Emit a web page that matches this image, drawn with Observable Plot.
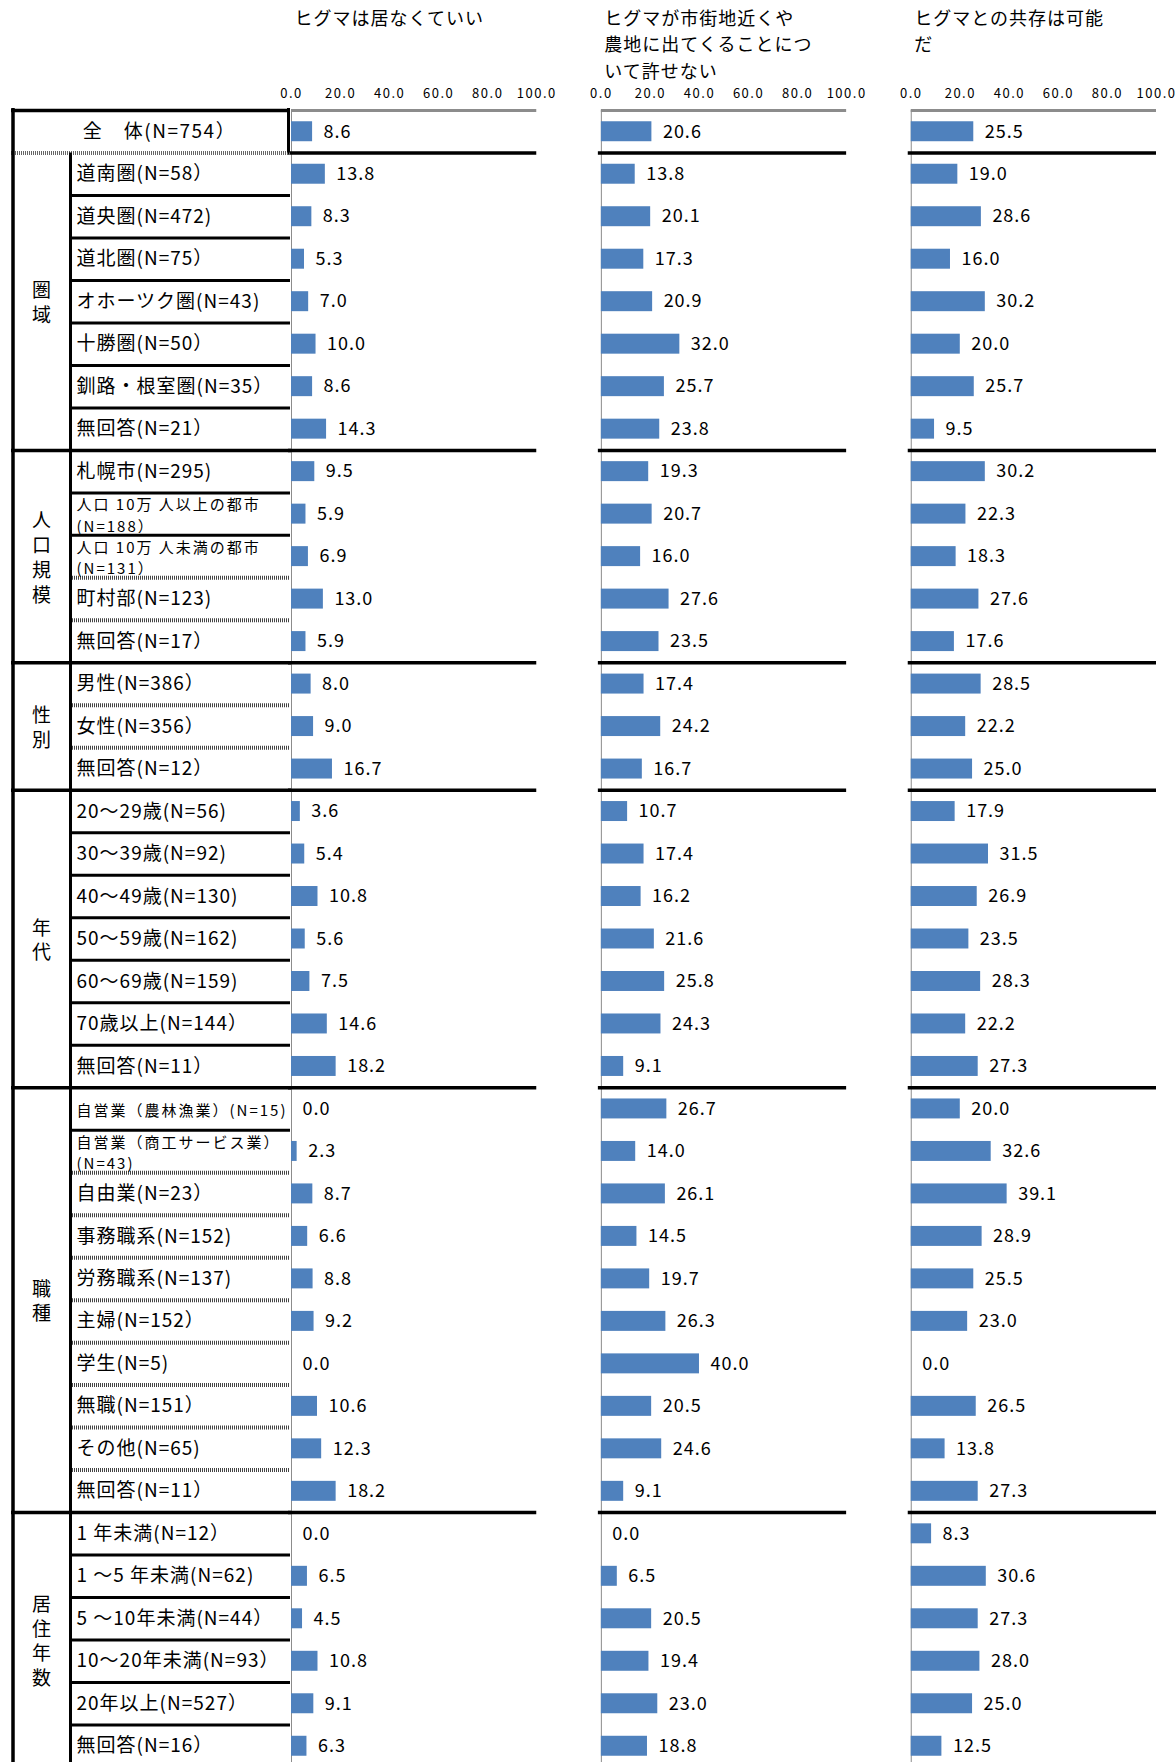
<!DOCTYPE html>
<html>
<head>
<meta charset="utf-8">
<script src="https://cdn.jsdelivr.net/npm/d3@7"></script>
<script src="https://cdn.jsdelivr.net/npm/@observablehq/plot@0.6"></script>
<style>
html, body { margin: 0; padding: 0; background: #fff; }
#chart svg { display: block; letter-spacing: 1px; }
</style>
</head>
<body>
<div id="chart"></div>
<script>
// ---------------- DATA ----------------
const questionKeys = ["q1", "q2", "q3"];
const questionTitles = [
  "ヒグマは居なくていい",
  "ヒグマが市街地近くや\n農地に出てくることにつ\nいて許せない",
  "ヒグマとの共存は可能\nだ"
];
const groupNames = ["全体", "圏域", "人口規模", "性別", "年代", "職種", "居住年数"];
const groupSizes = [1, 7, 5, 3, 7, 10, 6];
const rowLabels = [
  "全　体(N=754）",
  "道南圏(N=58）", "道央圏(N=472)", "道北圏(N=75）", "オホーツク圏(N=43)", "十勝圏(N=50）", "釧路・根室圏(N=35）", "無回答(N=21）",
  "札幌市(N=295)", "人口 10万 人以上の都市\n(N=188）", "人口 10万 人未満の都市\n(N=131）", "町村部(N=123)", "無回答(N=17）",
  "男性(N=386）", "女性(N=356）", "無回答(N=12）",
  "20～29歳(N=56)", "30～39歳(N=92)", "40～49歳(N=130)", "50～59歳(N=162)", "60～69歳(N=159)", "70歳以上(N=144）", "無回答(N=11）",
  "自営業（農林漁業）(N=15)", "自営業（商工サービス業）\n(N=43)", "自由業(N=23）", "事務職系(N=152)", "労務職系(N=137)", "主婦(N=152）", "学生(N=5)", "無職(N=151）", "その他(N=65)", "無回答(N=11）",
  "1 年未満(N=12）", "1 ～5 年未満(N=62)", "5 ～10年未満(N=44）", "10～20年未満(N=93）", "20年以上(N=527）", "無回答(N=16）"
];
const q1Values = [8.6, 13.8, 8.3, 5.3, 7.0, 10.0, 8.6, 14.3, 9.5, 5.9, 6.9, 13.0, 5.9, 8.0, 9.0, 16.7,
  3.6, 5.4, 10.8, 5.6, 7.5, 14.6, 18.2, 0.0, 2.3, 8.7, 6.6, 8.8, 9.2, 0.0, 10.6, 12.3, 18.2,
  0.0, 6.5, 4.5, 10.8, 9.1, 6.3];
const q2Values = [20.6, 13.8, 20.1, 17.3, 20.9, 32.0, 25.7, 23.8, 19.3, 20.7, 16.0, 27.6, 23.5, 17.4, 24.2, 16.7,
  10.7, 17.4, 16.2, 21.6, 25.8, 24.3, 9.1, 26.7, 14.0, 26.1, 14.5, 19.7, 26.3, 40.0, 20.5, 24.6, 9.1,
  0.0, 6.5, 20.5, 19.4, 23.0, 18.8];
const q3Values = [25.5, 19.0, 28.6, 16.0, 30.2, 20.0, 25.7, 9.5, 30.2, 22.3, 18.3, 27.6, 17.6, 28.5, 22.2, 25.0,
  17.9, 31.5, 26.9, 23.5, 28.3, 22.2, 27.3, 20.0, 32.6, 39.1, 28.9, 25.5, 23.0, 0.0, 26.5, 13.8, 27.3,
  8.3, 30.6, 27.3, 28.0, 25.0, 12.5];
const xTicks = [0, 20, 40, 60, 80, 100];

// ---------------- LAYOUT / STYLE ----------------
const W = 1176, H = 1767, M_TOP = 110, M_LEFT = 291, M_RIGHT = 20;
const FX_PAD = 0.2085;
const FX_STEP = (W - M_LEFT - M_RIGHT) / (questionKeys.length - FX_PAD);
const FX_BAND = FX_STEP * (1 - FX_PAD);
const N = rowLabels.length;
const STEP = (H - M_TOP) / N;
const BLUE = "#4F81BD";
const FONT = "'Noto Sans CJK JP', 'Noto Sans', sans-serif";
const patternedRules = [11, 12, 14, 15, 25, 26, 27, 28, 29, 30, 31, 32];

// letter-spacing for a given mark (via Plot's render hook)
const spacing = (ls) => ({
  render: (index, scales, values, dimensions, context, next) => {
    const g = next(index, scales, values, dimensions, context);
    if (g) g.setAttribute("letter-spacing", ls);
    return g;
  }
});

const valuesByQ = {q1: q1Values, q2: q2Values, q3: q3Values};
const bars = questionKeys.flatMap(q => valuesByQ[q].map((value, row) => ({q, row, value})));

let acc = 0;
const groups = groupNames.map((name, k) => {
  const g = {name, start: acc, size: groupSizes[k]};
  acc += groupSizes[k];
  return g;
});
const groupStarts = groups.slice(1).map(g => g.start);
const innerRules = groups.flatMap(g => d3.range(g.start + 1, g.start + g.size));
const labelGroups = groups.slice(1).map(g => ({
  ...g,
  mid: g.start + Math.floor((g.size - 1) / 2),
  even: g.size % 2 === 0,
  vtext: [...g.name].join("\n")
}));
const rowsData = rowLabels.map((label, row) => ({row, label, small: label.includes("\n") || label.length > 14}));

const Q1 = questionKeys[0];
const onFirst = () => Q1;
const fmt = d3.format(".1f");

const chart = Plot.plot({
  width: W,
  height: H,
  marginTop: M_TOP,
  marginLeft: M_LEFT,
  marginRight: M_RIGHT,
  marginBottom: 0,
  style: {fontFamily: FONT, fontSize: "17px", color: "#000", background: "#fff"},
  fx: {domain: questionKeys, paddingInner: FX_PAD, paddingOuter: 0, round: false, axis: null, label: null},
  x: {domain: [0, 100], label: null},
  y: {domain: d3.range(N), paddingInner: 0.53, paddingOuter: 0.265, round: false, axis: null, label: null},
  marks: [
    // top axis line and x tick labels in each panel
    Plot.ruleY([0], {dy: -STEP / 2, stroke: "#8c8c8c", strokeWidth: 3}),
    Plot.axisX({anchor: "top", ticks: xTicks, tickFormat: ".1f", tickSize: 0, tickPadding: 13, fontSize: 13, label: null, ...spacing("1.5px")}),
    // vertical zero line
    Plot.ruleX([0], {stroke: "#8c8c8c", strokeWidth: 1}),
    // bars and value labels
    Plot.barX(bars, {fx: "q", y: "row", x: "value", fill: BLUE}),
    Plot.text(bars, {fx: "q", y: "row", x: "value", text: d => fmt(d.value), textAnchor: "start", dx: 11, fontSize: 18}),
    // group separators across panels
    Plot.ruleY(groupStarts, {dy: -STEP / 2, insetLeft: -3, stroke: "#000", strokeWidth: 3.5}),
    // table: group separators in the label area
    Plot.ruleY(groupStarts.slice(1), {fx: onFirst, dy: -STEP / 2, insetLeft: -280, insetRight: FX_BAND, stroke: "#000", strokeWidth: 3.5}),
    Plot.ruleY([groupStarts[0]], {fx: onFirst, dy: -STEP / 2, insetLeft: -280, insetRight: FX_BAND + 1, stroke: "#666", strokeWidth: 4, strokeDasharray: "1 1"}),
    // table: row separators in the category column
    Plot.ruleY(innerRules.filter(r => !patternedRules.includes(r)), {fx: onFirst, dy: -STEP / 2, insetLeft: -221, insetRight: FX_BAND + 1, stroke: "#000", strokeWidth: 3}),
    Plot.ruleY(innerRules.filter(r => patternedRules.includes(r)), {fx: onFirst, dy: -STEP / 2, insetLeft: -221, insetRight: FX_BAND + 1, stroke: "#444", strokeWidth: 4, strokeDasharray: "1 1"}),
    // table: top border
    Plot.ruleY([0], {fx: onFirst, dy: -STEP / 2, insetLeft: -280, insetRight: FX_BAND + 2, stroke: "#000", strokeWidth: 3.5}),
    // table: verticals
    Plot.ruleX([0], {fx: onFirst, dx: -278.5, insetTop: -2, stroke: "#000", strokeWidth: 3.5}),
    Plot.ruleX([0], {fx: onFirst, dx: -221, insetTop: STEP, stroke: "#000", strokeWidth: 3}),
    Plot.ruleX([0], {fx: onFirst, dx: -3, insetTop: -2, insetBottom: H - M_TOP - STEP, stroke: "#000", strokeWidth: 3}),
    // table: category labels
    Plot.text(rowsData.filter(d => d.row > 0 && !d.small), {fx: onFirst, y: "row", text: "label", frameAnchor: "left", dx: -215, textAnchor: "start", fontSize: 19}),
    Plot.text(rowsData.filter(d => d.small), {fx: onFirst, y: "row", text: "label", frameAnchor: "left", dx: -215, textAnchor: "start", fontSize: 15, lineHeight: 1.43, ...spacing("2px")}),
    Plot.text(rowsData.filter(d => d.row === 0), {fx: onFirst, y: "row", text: "label", frameAnchor: "left", dx: -132, textAnchor: "middle", fontSize: 19, ...spacing("1.5px")}),
    // table: group labels (vertical)
    Plot.text(labelGroups.filter(g => !g.even), {fx: onFirst, y: "mid", text: "vtext", frameAnchor: "left", dx: -249.5, textAnchor: "middle", lineAnchor: "middle", fontSize: 19, lineHeight: 1.3}),
    Plot.text(labelGroups.filter(g => g.even), {fx: onFirst, y: "mid", text: "vtext", frameAnchor: "left", dx: -249.5, dy: STEP / 2, textAnchor: "middle", lineAnchor: "middle", fontSize: 19, lineHeight: 1.3}),
    // panel titles
    Plot.text(questionKeys, {fx: d => d, text: (d, i) => questionTitles[i], frameAnchor: "top-left", textAnchor: "start", lineAnchor: "top", dx: 3, dy: -104, fontSize: 18, lineHeight: 1.46})
  ]
});
document.getElementById("chart").append(chart);
</script>
</body>
</html>
